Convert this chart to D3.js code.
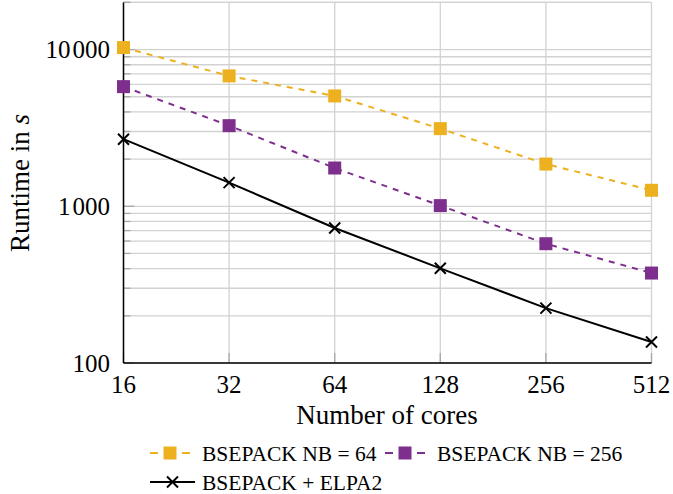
<!DOCTYPE html>
<html>
<head>
<meta charset="utf-8">
<script src="https://cdn.jsdelivr.net/npm/d3@7"></script>
<style>
  html, body { margin: 0; padding: 0; background: #fff; }
  svg text { font-family: "Liberation Serif", "DejaVu Serif", serif; fill: #000; }
</style>
</head>
<body>
<svg id="chart" width="673" height="494"></svg>
<script>
const cores = [16, 32, 64, 128, 256, 512];
const nb64 = [10300, 6790, 5060, 3130, 1860, 1265];
const nb256 = [5800, 3270, 1755, 1010, 577, 375];
const elpa = [2680, 1415, 727, 402, 224, 136];
const yTicks = [100, 1000, 10000];
const yTickLabels = ["100", "1 000", "10 000"];
const xTickLabels = ["16", "32", "64", "128", "256", "512"];
const seriesNames = ["BSEPACK NB = 64", "BSEPACK NB = 256", "BSEPACK + ELPA2"];

const orange = "#EDB120", purple = "#7E2F8E";

const svg = d3.select("#chart");
const x = d3.scaleLog().base(2).domain([16, 512]).range([123.5, 651.5]);
const y = d3.scaleLog().base(10).domain([100, 20000]).range([363, 2.4]);

const yGrid = [];
for (let d = 100; d <= 10000; d *= 10) for (let k = 1; k <= 9; k++) { const v = d * k; if (v <= 20000) yGrid.push(v); }
yGrid.push(20000);

const grid = svg.append("g");
grid.selectAll("line.hy").data(yGrid).join("line")
  .attr("x1", x(16)).attr("x2", x(512))
  .attr("y1", d => y(d)).attr("y2", d => y(d))
  .attr("stroke", "#d2d2d2").attr("stroke-width", 1.3);
grid.selectAll("line.vx").data(cores).join("line")
  .attr("x1", d => x(d)).attr("x2", d => x(d))
  .attr("y1", y(20000)).attr("y2", y(100))
  .attr("stroke", "#d2d2d2").attr("stroke-width", 1.3);

grid.selectAll("line.ty").data(yGrid).join("line")
  .attr("x1", x(16)).attr("x2", d => x(16) + (yTicks.includes(d) ? 11 : 7))
  .attr("y1", d => y(d)).attr("y2", d => y(d))
  .attr("stroke", "#a8a8a8").attr("stroke-width", 1.3);
grid.selectAll("line.tx").data(cores).join("line")
  .attr("x1", d => x(d)).attr("x2", d => x(d))
  .attr("y1", y(100)).attr("y2", y(100) - 10)
  .attr("stroke", "#a8a8a8").attr("stroke-width", 1.3);

svg.append("line").attr("x1", x(16)).attr("x2", x(16)).attr("y1", y(20000)).attr("y2", y(100))
  .attr("stroke", "#000").attr("stroke-width", 1.5);
svg.append("line").attr("x1", x(16)).attr("x2", x(512)).attr("y1", y(100)).attr("y2", y(100))
  .attr("stroke", "#000").attr("stroke-width", 1.5);

// y tick labels (thin gap between thousands groups)
const yt = svg.selectAll("text.yt").data(yTicks).join("text")
  .attr("x", 110).attr("y", d => y(d)).attr("dy", "0.35em")
  .attr("text-anchor", "end").attr("font-size", 25);
yt.each(function(d, i) {
  const parts = yTickLabels[i].split(" ");
  const t = d3.select(this);
  parts.forEach((p, j) => t.append("tspan").attr("dx", j > 0 ? 2 : null).text(p));
});
svg.selectAll("text.xt").data(cores).join("text")
  .attr("x", d => x(d)).attr("y", 393)
  .attr("text-anchor", "middle").attr("font-size", 25)
  .text((d, i) => xTickLabels[i]);

svg.append("text").attr("x", 387).attr("y", 424).attr("text-anchor", "middle")
  .attr("font-size", 27).text("Number of cores");
const yl = svg.append("text").attr("transform", "translate(29,183) rotate(-90)")
  .attr("text-anchor", "middle").attr("font-size", 27);
yl.append("tspan").text("Runtime in ");
yl.append("tspan").attr("font-style", "italic").text("s");

const line = d3.line().x((d, i) => x(cores[i])).y(d => y(d));
svg.append("path").datum(nb64).attr("d", line).attr("fill", "none")
  .attr("stroke", orange).attr("stroke-width", 2).attr("stroke-dasharray", "6,6");
svg.append("path").datum(nb256).attr("d", line).attr("fill", "none")
  .attr("stroke", purple).attr("stroke-width", 2).attr("stroke-dasharray", "6,6");
svg.append("path").datum(elpa).attr("d", line).attr("fill", "none")
  .attr("stroke", "#000").attr("stroke-width", 2);

const sq = 13;
function squares(data, color) {
  svg.append("g").selectAll("rect").data(data).join("rect")
    .attr("x", (d, i) => x(cores[i]) - sq / 2).attr("y", d => y(d) - sq / 2)
    .attr("width", sq).attr("height", sq).attr("fill", color);
}
squares(nb64, orange);
squares(nb256, purple);
const xs = 5.5;
const crossPath = (cx, cy) => `M${cx - xs},${cy - xs}L${cx + xs},${cy + xs}M${cx - xs},${cy + xs}L${cx + xs},${cy - xs}`;
svg.append("g").selectAll("path").data(elpa).join("path")
  .attr("d", (d, i) => crossPath(x(cores[i]), y(d)))
  .attr("stroke", "#000").attr("stroke-width", 2).attr("fill", "none");

const leg = svg.append("g").attr("font-size", 21.5);
function legDashed(x0, yy, color, label) {
  leg.append("line").attr("x1", x0).attr("x2", x0 + 8).attr("y1", yy).attr("y2", yy).attr("stroke", color).attr("stroke-width", 2);
  leg.append("line").attr("x1", x0 + 32).attr("x2", x0 + 40).attr("y1", yy).attr("y2", yy).attr("stroke", color).attr("stroke-width", 2);
  leg.append("rect").attr("x", x0 + 20 - sq / 2).attr("y", yy - sq / 2).attr("width", sq).attr("height", sq).attr("fill", color);
  leg.append("text").attr("x", x0 + 52).attr("y", yy).attr("dy", "0.35em").text(label);
}
legDashed(150, 453, orange, seriesNames[0]);
legDashed(385, 453, purple, seriesNames[1]);
leg.append("line").attr("x1", 150).attr("x2", 195).attr("y1", 482).attr("y2", 482).attr("stroke", "#000").attr("stroke-width", 2);
leg.append("path").attr("d", crossPath(172.5, 482)).attr("stroke", "#000").attr("stroke-width", 2);
leg.append("text").attr("x", 202).attr("y", 482).attr("dy", "0.35em").text(seriesNames[2]);
</script>
</body>
</html>
